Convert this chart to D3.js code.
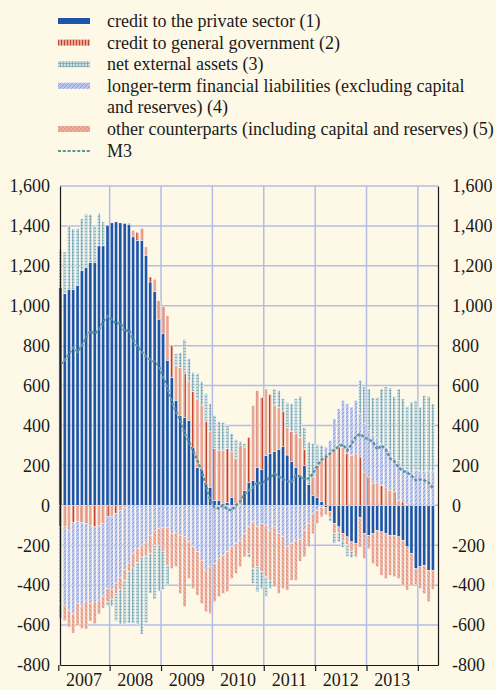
<!DOCTYPE html>
<html>
<head>
<meta charset="utf-8">
<script src="https://cdn.jsdelivr.net/npm/d3@7"></script>
<style>
    body { margin: 0; background: #fef9e7; }
    svg { display: block; }
    text { font-family: "Liberation Serif", "Times New Roman", serif; fill: #1a1a1a; }
</style>
</head>
<body>
<svg id="chart" width="496" height="690"></svg>
<script>
// annual flows, EUR billions, monthly from Jan 2007
var years = ['2007', '2008', '2009', '2010', '2011', '2012', '2013'];

var privateSector = [
    1092, 1060, 1083, 1080, 1100, 1175, 1192, 1217, 1217, 1300, 1300, 1403,
    1415, 1420, 1415, 1412, 1408, 1345, 1328, 1328, 1253, 1119, 1070, 933,
    862, 727, 642, 526, 451, 440, 426, 291, 190, 180, 110, 90,
    25, 25, 10, 15, 40, 10, 3, 75, 115, 125, 190, 180,
    250, 260, 270, 280, 295, 252, 220, 190, 150, 200, 105, 50,
    40, 20, -12, -30, -90, -108, -140, -158, -183, -192, -60, -142,
    -150, -140, -125, -133, -142, -150, -150, -158, -175, -208, -242, -317,
    -308, -300, -325, -325
];
var government = [
    -108, -108, -125, -85, -80, -85, -90, -100, -108, -100, -92, -55,
    -55, -40, -25, -10, 5, 33, 40, 60, 42, 25, 63, 92,
    133, 223, 158, 174, 239, 220, 194, 279, 340, 320, 310, 280,
    259, 250, 266, 269, 230, 224, 297, 217, 225, 375, 385, 360,
    333, 295, 230, 210, 175, 138, 150, 170, 190, 80, 0, 92,
    160, 205, 242, 267, 283, 292, 292, 258, 250, 258, 242, 167,
    142, 110, 112, 100, 92, 75, 67, 25, 17, 5, 0, 0,
    0, 0, 0, 0
];
var externalAssets = [
    191, 210, 317, 305, 287, 260, 268, 241, 186, 162, 120, -20,
    -35, -140, -175, -220, -260, -280, -310, -385, -340, -200, -270, -230,
    -190, -100, 0, 60, 75, 170, 115, 95, 130, 120, 140, 140,
    166, 145, 139, 116, 90, 96, 20, 18, -20, -75, -125, -84,
    -100, -42, 83, 85, 65, 125, 140, 175, 205, 110, 212, 168,
    105, 75, 0, -20, -50, -45, -35, -60, -30, 0, 167, 184,
    208, 184, 209, 275, 303, 313, 303, 358, 341, 317, 350, 350,
    320, 380, 373, 336
];
var longTerm = [
    -385, -392, -401, -458, -410, -420, -390, -390, -377, -380, -363, -363,
    -365, -350, -335, -310, -290, -240, -215, -200, -185, -150, -125, -115,
    -110, -110, -140, -135, -150, -158, -183, -208, -233, -275, -325, -308,
    -292, -267, -250, -233, -208, -192, -175, -142, -108, -83, -108, -92,
    -100, -125, -108, -142, -158, -208, -192, -175, -170, -125, -92, -42,
    -25, -10, 50, 58, 151, 192, 234, 251, 242, 268, 217, 242,
    233, 246, 221, 208, 200, 200, 175, 200, 175, 175, 167, 175,
    172, 170, 172, 172
];
var otherCounterparts = [
    -72, -78, -84, -97, -111, -112, -140, -90, -108, -65, -60, -66,
    -50, -50, -60, -55, -40, -70, -70, -60, -65, -90, -75, -85,
    -120, -190, -177, -173, -292, -350, -184, -209, -217, -217, -208, -234,
    -191, -191, -192, -200, -159, -150, -133, -116, -134, -234, -200, -241,
    -258, -250, -300, -300, -259, -217, -183, -200, -110, -133, -116, -100,
    -67, -48, -35, -30, -50, -30, -35, -40, -50, -66, -150, -125,
    -67, -152, -183, -217, -225, -200, -208, -209, -225, -217, -158, -80,
    -109, -142, -158, -95
];
var m3 = [
    708, 725, 760, 790, 770, 800, 840, 875, 860, 880, 920, 948,
    930, 910, 915, 870, 880, 830, 795, 770, 745, 730, 720, 700,
    640, 590, 520, 470, 430, 360, 320, 275, 225, 170, 100, 25,
    -10, -15, 0, -20, -25, 0, 20, 55, 75, 90, 115, 108,
    125, 140, 158, 145, 130, 120, 118, 150, 145, 133, 135, 160,
    200, 228, 242, 260, 280, 295, 305, 275, 305, 345, 358, 340,
    330, 318, 280, 300, 280, 235, 220, 190, 172, 165, 150, 125,
    130, 125, 115, 85
];
var yTicks = [-800, -600, -400, -200, 0, 200, 400, 600, 800, 1000, 1200, 1400, 1600];

var legendItems = [
    { key: 'private',    lines: ['credit to the private sector (1)'] },
    { key: 'government', lines: ['credit to general government (2)'] },
    { key: 'external',   lines: ['net external assets (3)'] },
    { key: 'longTerm',   lines: ['longer-term financial liabilities (excluding capital', 'and reserves) (4)'] },
    { key: 'other',      lines: ['other counterparts (including capital and reserves) (5)'] },
    { key: 'm3',         lines: ['M3'] }
];

var svg = d3.select('#chart');
var plotLeft = 60, plotRight = 438, plotTop = 186, plotBottom = 665;

var x = d3.scaleLinear().domain([0.4, 88.7]).range([plotLeft, plotRight]);
var y = d3.scaleLinear().domain([-800, 1600]).range([plotBottom, plotTop]);

/* fill patterns */
var defs = svg.append('defs');

function makePattern(id, w, h, bg, shape, stroke, sw){
    var p = defs.append('pattern')
        .attr('id', id)
        .attr('patternUnits', 'userSpaceOnUse')
        .attr('width', w)
        .attr('height', h);
    p.append('rect').attr('width', w).attr('height', h).attr('fill', bg);
    p.append('path').attr('d', shape).attr('stroke', stroke).attr('stroke-width', sw).attr('fill', 'none');
}

makePattern('pat-gov',        7, 3, '#e8a693', 'M3.5,0 V3', '#c4432f', 1.3);
makePattern('pat-gov-legend', 3, 3, '#e8a693', 'M1.5,0 V3', '#c4432f', 1);   // tighter stripe for the key
makePattern('pat-other',      4, 4, '#eaae9d', 'M0,0 L4,4 M-1,3 L1,5 M3,-1 L5,1', '#d47c69', 0.6);
makePattern('pat-ltfl',       4, 4, '#b9c4ef', 'M0,4 L4,0 M-1,1 L1,-1 M3,5 L5,3', '#6c84d2', 0.6);
makePattern('pat-nea',        3, 3, '#c8dcdf', 'M0,0.5 H3 M0.5,0 V3', '#76a3ad', 0.7);

var fills = {
    'private'    : '#1f55a7',
    'government' : 'url(#pat-gov)',
    'longTerm'   : 'url(#pat-ltfl)',
    'other'      : 'url(#pat-other)',
    'external'   : 'url(#pat-nea)'
};

/* grid */
var grid = svg.append('g');
grid.selectAll('line.h')
    .data(yTicks.filter(function(d){ return d > -800; }))
    .enter().append('line')
    .attr('x1', plotLeft).attr('x2', plotRight)
    .attr('y1', function(d){ return y(d); })
    .attr('y2', function(d){ return y(d); })
    .attr('stroke', '#b3bce6')
    .attr('stroke-width', 1.5);

var yearStarts = d3.range(1, years.length + 1).map(function(k){ return k * 12; });
grid.selectAll('line.v')
    .data(yearStarts)
    .enter().append('line')
    .attr('x1', function(d){ return x(d); })
    .attr('x2', function(d){ return x(d); })
    .attr('y1', plotTop).attr('y2', plotBottom)
    .attr('stroke', '#b3bce6')
    .attr('stroke-width', 1.5);

/* stacked bars */
var rows = privateSector.map(function(v, i){
    return {
        i          : i,
        'private'  : v,
        government : government[i],
        longTerm   : longTerm[i],
        other      : otherCounterparts[i],
        external   : externalAssets[i]
    };
});

var series = d3.stack()
    .keys(['private', 'government', 'longTerm', 'other', 'external'])
    .offset(d3.stackOffsetDiverging)(rows);

svg.append('g').selectAll('g')
    .data(series)
    .enter().append('g')
    .attr('fill', function(s){ return fills[s.key]; })
    .selectAll('rect')
    .data(function(s){ return s.filter(function(d){ return d[1] - d[0] !== 0; }); })
    .enter().append('rect')
    .attr('x', function(d){ return x(d.data.i) + 0.6; })
    .attr('width', function(d){ return x(d.data.i + 1) - x(d.data.i) - 1.2; })
    .attr('y', function(d){ return y(Math.max(d[0], d[1])); })
    .attr('height', function(d){ return Math.abs(y(d[0]) - y(d[1])); })
    .attr('stroke', '#ffffff')
    .attr('stroke-width', 0.4);

/* M3 line */
var m3Line = d3.line()
    .x(function(d, i){ return x(i + 0.5); })
    .y(function(d){ return y(d); });

svg.append('path')
    .datum(m3)
    .attr('d', m3Line)
    .attr('fill', 'none')
    .attr('stroke', '#5a949c')
    .attr('stroke-width', 2.4)
    .attr('stroke-dasharray', '3,1.8');

/* axes */
var fmt = function(d){ return d3.format(',')(d).replace('\u2212', '-'); };

var axisL = svg.append('g')
    .attr('transform', 'translate(' + plotLeft + ',0)')
    .call(d3.axisLeft(y).tickValues(yTicks).tickFormat(fmt).tickSize(0).tickPadding(10));
var axisR = svg.append('g')
    .attr('transform', 'translate(' + plotRight + ',0)')
    .call(d3.axisRight(y).tickValues(yTicks).tickFormat(fmt).tickSize(0).tickPadding(14));

[axisL, axisR].forEach(function(a){
    a.select('.domain').attr('stroke', '#1a1a1a').attr('stroke-width', 1.2);
    a.selectAll('text')
        .attr('font-family', '"Liberation Serif", serif')
        .attr('font-size', 18)
        .attr('fill', '#1a1a1a');
});

var xTicks = d3.range(0, years.length + 1).map(function(k){ return k * 12; });
var axisB = svg.append('g')
    .attr('transform', 'translate(0,' + plotBottom + ')')
    .call(d3.axisBottom(x).tickValues(xTicks).tickFormat('').tickSize(6).tickSizeOuter(0));
axisB.select('.domain').attr('stroke', '#1a1a1a').attr('stroke-width', 1.2);
axisB.selectAll('.tick line').attr('stroke', '#1a1a1a').attr('stroke-width', 1.2);

svg.append('g').selectAll('text')
    .data(years)
    .enter().append('text')
    .attr('x', function(d, k){ return x(k * 12 + 6); })
    .attr('y', 686)
    .attr('text-anchor', 'middle')
    .attr('font-size', 18)
    .text(function(d){ return d; });

/* legend */
var legend = svg.append('g');
var rowY = 27;
legendItems.forEach(function(item){
    var g = legend.append('g');
    if(item.key === 'm3'){
        g.append('line')
            .attr('x1', 58).attr('x2', 90)
            .attr('y1', rowY - 5.5).attr('y2', rowY - 5.5)
            .attr('stroke', '#5a949c')
            .attr('stroke-width', 2)
            .attr('stroke-dasharray', '3,1.8');
    } else {
        g.append('rect')
            .attr('x', 58).attr('y', rowY - 9)
            .attr('width', 32).attr('height', 6)
            .attr('fill', item.key === 'government' ? 'url(#pat-gov-legend)' : fills[item.key]);
    }
    item.lines.forEach(function(line){
        g.append('text')
            .attr('x', 107)
            .attr('y', rowY)
            .attr('font-size', 18)
            .text(line);
        rowY += 21.6;
    });
});
</script>
</body>
</html>
